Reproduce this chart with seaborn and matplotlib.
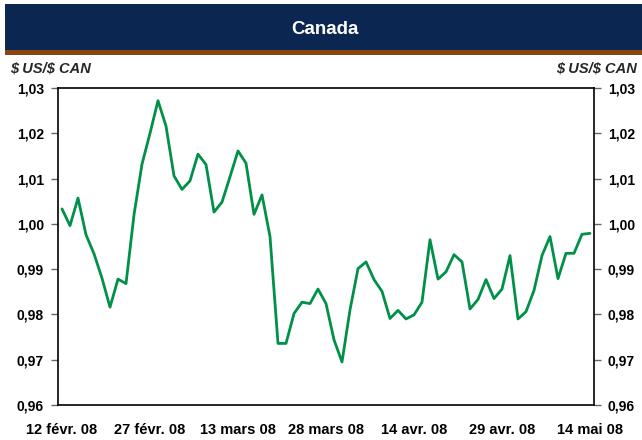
import matplotlib
matplotlib.use('Agg')
import matplotlib.pyplot as plt
import seaborn as sns
import pandas as pd
from matplotlib.patches import Rectangle
from matplotlib.ticker import FuncFormatter

# Daily USD per CAD, business days from 12 Feb 2008 to 14 May 2008
rates = [
    1.0033, 0.9996, 1.0057, 0.9976, 0.9934, 0.9880, 0.9816, 0.9878, 0.9868, 1.0020,
    1.0132, 1.0200, 1.0272, 1.0216, 1.0106, 1.0076, 1.0095, 1.0154, 1.0131, 1.0026,
    1.0048, 1.0104, 1.0161, 1.0134, 1.0021, 1.0064, 0.9972, 0.9736, 0.9736, 0.9802,
    0.9827, 0.9824, 0.9856, 0.9824, 0.9744, 0.9695, 0.9810, 0.9901, 0.9916, 0.9877,
    0.9851, 0.9791, 0.9809, 0.9790, 0.9799, 0.9827, 0.9965, 0.9878, 0.9894, 0.9932,
    0.9916, 0.9812, 0.9833, 0.9877, 0.9835, 0.9856, 0.9930, 0.9790, 0.9806, 0.9853,
    0.9930, 0.9972, 0.9879, 0.9935, 0.9935, 0.9977, 0.9979,
]
tick_labels = ['12 févr. 08', '27 févr. 08', '13 mars 08', '28 mars 08',
               '14 avr. 08', '29 avr. 08', '14 mai 08']
y_ticks = [0.96, 0.97, 0.98, 0.99, 1.00, 1.01, 1.02, 1.03]

df = pd.DataFrame({'jour': range(len(rates)), 'taux': rates})

sns.set_theme(style="white")
plt.rcParams['font.family'] = ['Liberation Sans', 'DejaVu Sans']

fig = plt.figure(figsize=(6.42, 4.40), dpi=100)
W, H = 642, 440

# header band
fig.patches.append(Rectangle((5 / W, 1 - 50 / H), 1, 46 / H, transform=fig.transFigure,
                             facecolor='#0B2650', edgecolor='none'))
fig.patches.append(Rectangle((5 / W, 1 - 55 / H), 1, 5 / H, transform=fig.transFigure,
                             facecolor='#8A4510', edgecolor='none'))
fig.text(325 / W, 1 - 30 / H, 'Canada', color='white', fontsize=13.5, fontweight='bold',
         ha='center', va='center')
unit = r'\$ US/\$ CAN'
fig.text(10 / W, 1 - 68 / H, unit, fontsize=10.5, fontweight='bold', fontstyle='italic',
         ha='left', va='center')
fig.text(637 / W, 1 - 68 / H, unit, fontsize=10.5, fontweight='bold', fontstyle='italic',
         ha='right', va='center')

ax = fig.add_axes([58 / W, 1 - 405 / H, 536 / W, 317 / H])
sns.lineplot(data=df, x='jour', y='taux', ax=ax, color='#009048', linewidth=2)

ax.set_xlim(-0.5, len(rates) - 0.5)
ax.set_ylim(0.96, 1.03)
ax.set_yticks(y_ticks)
ax.yaxis.set_major_formatter(FuncFormatter(lambda v, p: f'{v:.2f}'.replace('.', ',')))
ax.set_xticks(range(0, len(rates), 11))
ax.set_xticklabels(tick_labels)
ax.set_xlabel('')
ax.set_ylabel('')

for s in ax.spines.values():
    s.set_color('black')
    s.set_linewidth(1.2)

ax.tick_params(axis='y', which='both', left=True, right=True, labelleft=True, labelright=True,
               direction='out', length=5, width=1, color='#666666', pad=5)
ax.tick_params(axis='x', bottom=False, pad=7)
for lab in ax.get_yticklabels():
    lab.set_fontsize(10)
    lab.set_fontweight('bold')
    lab.set_color('black')
for lab in ax.get_xticklabels():
    lab.set_fontsize(10.5)
    lab.set_fontweight('bold')
    lab.set_color('black')

plt.savefig('out.png', dpi=100, facecolor='white')
plt.close()
